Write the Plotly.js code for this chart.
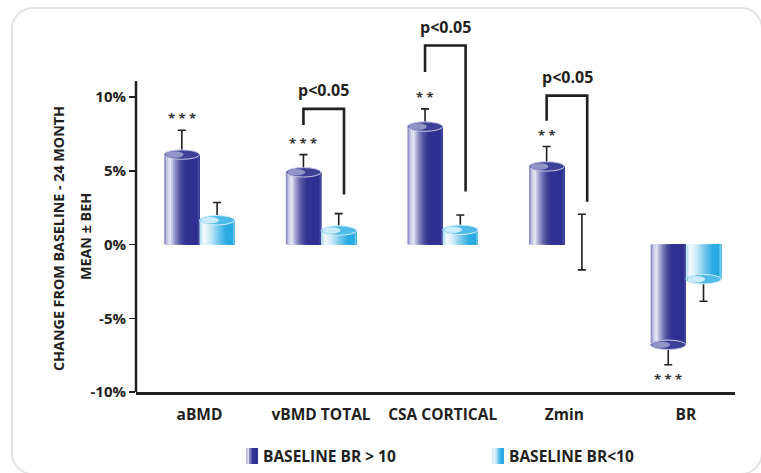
<!DOCTYPE html>
<html>
<head>
<meta charset="utf-8">
<script src="https://cdn.plot.ly/plotly-3.0.1.min.js"></script>
<style>
  html, body { margin: 0; padding: 0; background: #ffffff; overflow: hidden; }
  #frame { position: absolute; left: 11px; top: 7px; width: 752px; height: 468px; box-sizing: border-box;
           border: 2.5px solid #e2e2e2; border-radius: 22px; }
  #chart { position: absolute; left: 0; top: 0; width: 761px; height: 473px; }
</style>
</head>
<body>
<div id="frame"></div>
<div id="chart"></div>
<script>
// ---------------- DATA ----------------
const categories = ['aBMD', 'vBMD TOTAL', 'CSA CORTICAL', 'Zmin', 'BR'];
const seriesNames = ['BASELINE BR > 10', 'BASELINE BR<10'];

const highBR = [6.1, 4.9, 8.0, 5.3, -6.8];          // baseline BR > 10
const highErrPlus = [1.65, 1.2, 1.2, 1.35, 0];
const highErrMinus = [0, 0, 0, 0, 1.35];

const lowBR = [1.65, 0.95, 1.0, 0, -2.35];          // baseline BR < 10
const lowErrPlus = [1.2, 1.15, 1.0, 2.05, 0];
const lowErrMinus = [0, 0, 0, 1.72, 1.5];

const starText = ['* * *', '* * *', '* *', '* *', '* * *'];
const starY = [8.6, 6.9, 10.0, 7.45, -9.1];

const bracketCat = [1, 2, 3];
const bracketLeftY = [8.1, 11.7, 8.4];
const bracketTopY = [9.2, 13.5, 10.1];
const bracketRightY = [3.4, 3.6, 2.9];
const bracketLabel = ['p<0.05', 'p<0.05', 'p<0.05'];

const yTicks = [-10, -5, 0, 5, 10];
const yTickText = ['-10%', '-5%', '0%', '5%', '10%'];

// ---------------- STYLE ----------------
const W = 0.29;           // bar width (x units)
const OFF = [-W, 0];      // left edge offsets of the two series
const N = 20;             // gradient stripes per bar
const darkStops = [[0, '#7274b8'], [0.06, '#b9b9de'], [0.16, '#ececf6'], [0.3, '#9394c9'], [0.45, '#50529f'], [0.6, '#2f3290'], [0.95, '#2e3191'], [1, '#5a5cab']];
const lightStops = [[0, '#a8dbf2'], [0.12, '#f4fbfe'], [0.3, '#cdebf8'], [0.55, '#6cc5ec'], [0.75, '#2cabe2'], [0.94, '#27a9e1'], [1, '#9ad8f3']];
const FONT = 'Open Sans, Noto Sans, Arial, sans-serif';
const INK = '#231f20';

function hex2rgb(h) { return [1, 3, 5].map(i => parseInt(h.substr(i, 2), 16)); }
function grad(stops, t) {
  for (let i = 1; i < stops.length; i++) {
    if (t <= stops[i][0]) {
      const [t0, c0] = stops[i - 1], [t1, c1] = stops[i];
      const f = (t - t0) / (t1 - t0), a = hex2rgb(c0), b = hex2rgb(c1);
      return 'rgb(' + a.map((v, k) => Math.round(v + (b[k] - v) * f)).join(',') + ')';
    }
  }
  return stops[stops.length - 1][1];
}

const xIdx = categories.map((c, i) => i);
const traces = [];
const seriesVals = [highBR, lowBR];
const seriesStops = [darkStops, lightStops];

// each stripe runs from its left edge to the bar's right edge; later stripes cover earlier ones (no seams)
seriesVals.forEach((vals, s) => {
  for (let k = 0; k < N; k++) {
    traces.push({
      type: 'bar', x: xIdx, y: vals,
      offset: OFF[s] + k * W / N, width: W - k * W / N,
      marker: { color: grad(seriesStops[s], (k + 0.5) / N), line: { width: 0 } },
      hoverinfo: 'skip', showlegend: false
    });
  }
});

// error bars
[[highBR, highErrPlus, highErrMinus], [lowBR, lowErrPlus, lowErrMinus]].forEach((d, s) => {
  traces.push({
    type: 'scatter', mode: 'markers',
    x: xIdx.map(i => i + OFF[s] + W / 2), y: d[0],
    marker: { size: 1, color: 'rgba(0,0,0,0)' },
    error_y: { type: 'data', symmetric: false, array: d[1], arrayminus: d[2], color: INK, thickness: 1.6, width: 4 },
    hoverinfo: 'skip', showlegend: false
  });
});

// brackets
bracketCat.forEach((c, j) => {
  traces.push({
    type: 'scatter', mode: 'lines',
    x: [c - W / 2, c - W / 2, c + W * 0.65, c + W * 0.65],
    y: [bracketLeftY[j], bracketTopY[j], bracketTopY[j], bracketRightY[j]],
    line: { color: INK, width: 2.6 }, hoverinfo: 'skip', showlegend: false
  });
});

const shapes = [];
// y axis line
shapes.push({ type: 'line', xref: 'paper', yref: 'y', x0: 0, x1: 0, y0: -10, y1: 11.1, line: { color: INK, width: 2.5 } });

// cylinder end ellipses
seriesVals.forEach((vals, s) => {
  vals.forEach((v, i) => {
    if (v === 0) return;
    const x0 = i + OFF[s], x1 = i + OFF[s] + W;
    shapes.push({ type: 'circle', xref: 'x', yref: 'y', x0: x0, x1: x1, y0: v - 0.32, y1: v + 0.32,
      fillcolor: s === 0 ? '#3f4199' : '#4fbbe8', line: { color: s === 0 ? '#c9c9e6' : '#d4eefa', width: 1 } });
    shapes.push({ type: 'circle', xref: 'x', yref: 'y', x0: x0 + W * 0.04, x1: x0 + W * 0.55, y0: v - 0.22, y1: v + 0.22,
      fillcolor: s === 0 ? 'rgba(230,230,245,0.5)' : 'rgba(245,251,254,0.75)', line: { width: 0 } });
  });
});

// legend swatches (pixel layout -> paper)
const px = p => (p - 136) / 599, py = p => (392 - p) / 376;
[[246, darkStops], [492, lightStops]].forEach(([x0, st]) => {
  const n = 8, w = 12 / n;
  for (let k = 0; k < n; k++) {
    shapes.push({ type: 'rect', xref: 'paper', yref: 'paper', x0: px(x0 + k * w), x1: px(x0 + 12),
      y0: py(464), y1: py(448), fillcolor: grad(st, (k + 0.5) / n), line: { width: 0 } });
  }
});

const annotations = [];
// stars
xIdx.forEach(i => {
  annotations.push({ x: i - W / 2, y: starY[i], xref: 'x', yref: 'y', text: starText[i], showarrow: false,
    font: { family: FONT, size: 13, color: '#333333', weight: 700 }, yanchor: 'middle' });
});
// p labels
bracketCat.forEach((c, j) => {
  annotations.push({ x: c + W * 0.08, y: bracketTopY[j] + 1.25, xref: 'x', yref: 'y', text: '<b>' + bracketLabel[j] + '</b>', showarrow: false,
    font: { family: FONT, size: 16, color: INK } });
});
// y titles
annotations.push({ xref: 'paper', yref: 'paper', x: px(58), y: py(239), xanchor: 'center', yanchor: 'middle',
  text: '<b>CHANGE FROM BASELINE - 24 MONTH</b>', textangle: -90,
  showarrow: false, font: { family: FONT, size: 14.3, color: INK } });
annotations.push({ xref: 'paper', yref: 'paper', x: px(85), y: py(237), xanchor: 'center', yanchor: 'middle',
  text: '<b>MEAN ± BEH</b>', textangle: -90,
  showarrow: false, font: { family: FONT, size: 14.3, color: INK } });
// legend text
annotations.push({ xref: 'paper', yref: 'paper', x: px(261), y: py(456), xanchor: 'left', yanchor: 'middle', text: '<b>' + seriesNames[0] + '</b>',
  showarrow: false, font: { family: FONT, size: 15.5, color: INK } });
annotations.push({ xref: 'paper', yref: 'paper', x: px(507), y: py(456), xanchor: 'left', yanchor: 'middle', text: '<b>' + seriesNames[1] + '</b>',
  showarrow: false, font: { family: FONT, size: 15.5, color: INK } });

const layout = {
  width: 761, height: 473,
  margin: { l: 136, r: 26, t: 16, b: 81 },
  paper_bgcolor: 'rgba(0,0,0,0)', plot_bgcolor: 'rgba(0,0,0,0)',
  barmode: 'overlay', showlegend: false,
  font: { family: FONT, color: INK },
  xaxis: {
    range: [-0.522, 4.404], showgrid: false, zeroline: false,
    showline: true, linecolor: INK, linewidth: 2.5,
    tickvals: xIdx, ticktext: categories.map(c => '<b>' + c + '</b>'),
    ticks: '', ticklabelstandoff: 7, tickfont: { family: FONT, size: 15.5, color: INK }
  },
  yaxis: {
    range: [-10, 15.5], showgrid: false, zeroline: false, showline: false,
    tickvals: yTicks, ticktext: yTickText.map(t => '<b>' + t + '</b>'),
    ticks: 'outside', ticklen: 6, tickwidth: 1.5, tickcolor: INK,
    tickfont: { family: FONT, size: 15, color: INK }
  },
  shapes: shapes, annotations: annotations
};

Plotly.newPlot('chart', traces, layout, { displayModeBar: false, staticPlot: true });
</script>
</body>
</html>
